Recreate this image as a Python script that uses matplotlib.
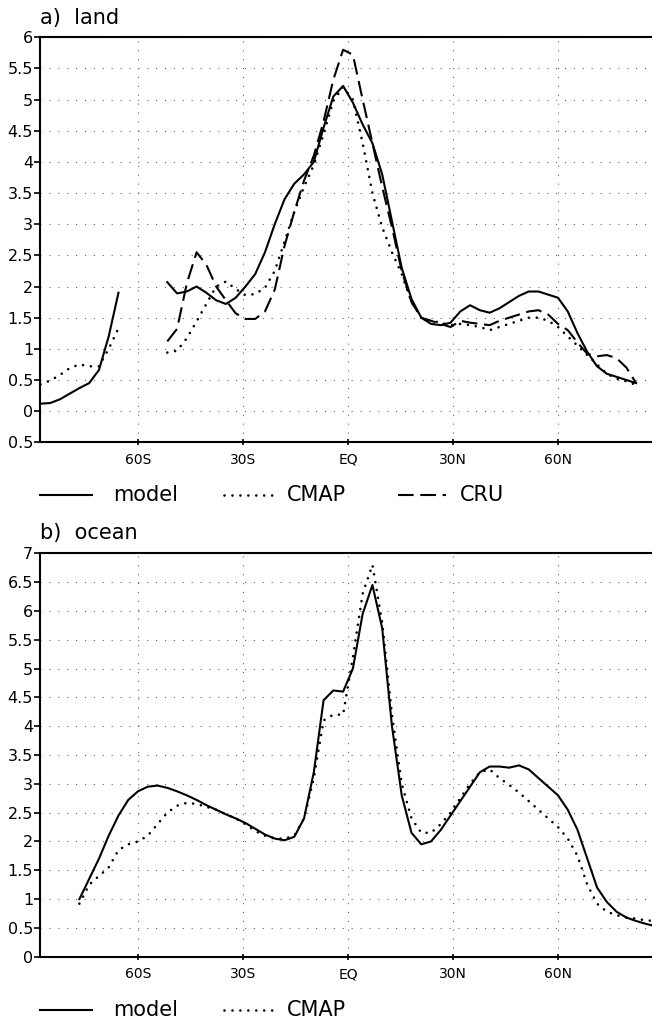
import numpy as np
import matplotlib
matplotlib.use("Agg")
import matplotlib.pyplot as plt
from matplotlib.lines import Line2D

W, H = 652, 1021

# T42 gaussian latitudes (deg)
lats = [-87.86, -85.10, -82.31, -79.53, -76.74, -73.95, -71.16, -68.37,
        -65.58, -62.79, -60.00, -57.21, -54.42, -51.63, -48.84, -46.05,
        -43.26, -40.47, -37.67, -34.88, -32.09, -29.30, -26.51, -23.72,
        -20.93, -18.14, -15.35, -12.56, -9.77, -6.98, -4.19, -1.40,
        1.40, 4.19, 6.98, 9.77, 12.56, 15.35, 18.14, 20.93,
        23.72, 26.51, 29.30, 32.09, 34.88, 37.67, 40.47, 43.26,
        46.05, 48.84, 51.63, 54.42, 57.21, 60.00, 62.79, 65.58,
        68.37, 71.16, 73.95, 76.74, 79.53, 82.31, 85.10, 87.86]

nan = np.nan

# a) land
land_model = [0.12, 0.13, 0.19, 0.28, 0.37, 0.45, 0.66, 1.20,
              1.90, nan, nan, nan, nan, 2.07, 1.89, 1.92,
              2.00, 1.90, 1.78, 1.72, 1.82, 2.00, 2.20, 2.55,
              3.00, 3.40, 3.65, 3.80, 4.00, 4.55, 5.05, 5.22,
              4.95, 4.60, 4.30, 3.80, 3.05, 2.30, 1.80, 1.50,
              1.40, 1.38, 1.42, 1.60, 1.70, 1.62, 1.58, 1.65,
              1.75, 1.85, 1.92, 1.92, 1.87, 1.82, 1.60, 1.25,
              0.95, 0.72, 0.60, 0.55, 0.50, 0.45, nan, nan]
land_cmap = [0.43, 0.49, 0.58, 0.69, 0.75, 0.72, 0.72, 1.00,
             1.33, nan, nan, nan, nan, 0.94, 0.97, 1.17,
             1.44, 1.72, 2.00, 2.08, 1.96, 1.86, 1.88, 1.98,
             2.25, 2.72, 3.20, 3.60, 3.95, 4.45, 4.98, 5.20,
             5.00, 4.30, 3.50, 2.95, 2.55, 2.20, 1.75, 1.50,
             1.45, 1.42, 1.38, 1.40, 1.38, 1.35, 1.30, 1.35,
             1.40, 1.45, 1.50, 1.50, 1.45, 1.35, 1.20, 1.05,
             0.90, 0.75, 0.60, 0.52, 0.48, 0.42, nan, nan]
land_cru = [nan, nan, nan, nan, nan, nan, nan, nan,
            nan, nan, nan, nan, nan, 1.12, 1.32, 2.05,
            2.55, 2.35, 2.00, 1.78, 1.57, 1.48, 1.48, 1.60,
            1.95, 2.65, 3.20, 3.70, 4.10, 4.65, 5.32, 5.80,
            5.72, 5.00, 4.30, 3.60, 2.95, 2.25, 1.75, 1.50,
            1.45, 1.40, 1.35, 1.45, 1.42, 1.40, 1.38, 1.45,
            1.50, 1.55, 1.60, 1.62, 1.55, 1.40, 1.30, 1.10,
            0.92, 0.88, 0.90, 0.85, 0.70, 0.45, nan, nan]

# b) ocean
ocean_model = [nan, nan, nan, nan, 1.00, 1.35, 1.70, 2.10,
               2.45, 2.72, 2.87, 2.95, 2.97, 2.93, 2.87, 2.80,
               2.72, 2.63, 2.55, 2.47, 2.40, 2.32, 2.22, 2.12,
               2.05, 2.02, 2.08, 2.40, 3.20, 4.45, 4.62, 4.60,
               5.00, 5.95, 6.45, 5.70, 4.00, 2.80, 2.15, 1.95,
               2.00, 2.20, 2.45, 2.70, 2.95, 3.20, 3.30, 3.30,
               3.28, 3.32, 3.25, 3.10, 2.95, 2.80, 2.55, 2.20,
               1.70, 1.20, 0.95, 0.78, 0.68, 0.62, 0.57, 0.53]
ocean_cmap = [nan, nan, nan, nan, 0.92, 1.25, 1.40, 1.55,
              1.85, 1.95, 2.00, 2.10, 2.30, 2.50, 2.62, 2.67,
              2.65, 2.60, 2.55, 2.47, 2.40, 2.30, 2.18, 2.10,
              2.05, 2.05, 2.10, 2.40, 3.10, 4.10, 4.20, 4.20,
              5.20, 6.30, 6.80, 5.80, 4.20, 3.00, 2.40, 2.15,
              2.15, 2.30, 2.50, 2.75, 3.00, 3.20, 3.25, 3.10,
              2.98, 2.85, 2.70, 2.55, 2.40, 2.25, 2.05, 1.75,
              1.25, 0.92, 0.78, 0.72, 0.68, 0.66, 0.63, 0.62]

xticks = [-60, -30, 0, 30, 60]
xticklabels = ["60S", "30S", "EQ", "30N", "60N"]
land_yticks = [-0.5, 0, 0.5, 1, 1.5, 2, 2.5, 3, 3.5, 4, 4.5, 5, 5.5, 6]
land_yticklabels = ["0.5", "0", "0.5", "1", "1.5", "2", "2.5", "3", "3.5",
                    "4", "4.5", "5", "5.5", "6"]
ocean_yticks = [0, 0.5, 1, 1.5, 2, 2.5, 3, 3.5, 4, 4.5, 5, 5.5, 6, 6.5, 7]
ocean_yticklabels = ["0", "0.5", "1", "1.5", "2", "2.5", "3", "3.5", "4",
                     "4.5", "5", "5.5", "6", "6.5", "7"]

STYLES = {
    "model": dict(color="black", lw=1.5, linestyle="-"),
    "CMAP": dict(color="black", lw=1.9, linestyle=(0, (0.01, 3.0)),
                 dash_capstyle="round"),
    "CRU": dict(color="black", lw=1.5, linestyle=(0, (7.5, 3.2))),
}


def fx(px):
    return px / W


def fy(py):
    return 1 - py / H


def setup_axes(ax, yticks, yticklabels, ylim):
    ax.set_xlim(-88, 88)
    ax.set_ylim(*ylim)
    ax.set_xticks(xticks)
    ax.set_xticklabels(xticklabels, fontsize=10)
    ax.set_yticks(yticks)
    ax.set_yticklabels(yticklabels, fontsize=11.5)
    ax.tick_params(axis="x", direction="inout", length=5, width=1.2, pad=5)
    ax.tick_params(axis="y", direction="out", length=4, width=1.2, pad=1)
    for s in ["left", "bottom", "top"]:
        ax.spines[s].set_linewidth(1.5)
    ax.spines["right"].set_visible(False)
    ax.grid(True, color="#666666", lw=0.8, linestyle=(0, (1, 7)))
    ax.set_axisbelow(True)


def legend_row(fig, y, entries):
    # entries: (name, line x0, line x1, text x)
    for name, x0, x1, tx in entries:
        st = STYLES[name]
        fig.add_artist(Line2D([fx(x0), fx(x1)], [fy(y), fy(y)],
                              transform=fig.transFigure, **st))
        fig.text(fx(tx), fy(y), name, fontsize=15, va="center", ha="left")


def main():
    fig = plt.figure(figsize=(W / 100, H / 100), dpi=100)

    ax1 = fig.add_axes([fx(40), fy(442.3), 616 / W, (442.3 - 37.3) / H])
    setup_axes(ax1, land_yticks, land_yticklabels, (-0.5, 6))
    ax1.plot(lats, land_model, **STYLES["model"])
    ax1.plot(lats, land_cmap, **STYLES["CMAP"])
    ax1.plot(lats, land_cru, **STYLES["CRU"])
    fig.text(fx(40), fy(18), "a)  land", fontsize=15, va="center", ha="left")
    legend_row(fig, 495, [("model", 40, 92, 113),
                          ("CMAP", 224, 272, 287),
                          ("CRU", 398, 446, 460)])

    ax2 = fig.add_axes([fx(40), fy(956.7), 616 / W, (956.7 - 553.3) / H])
    setup_axes(ax2, ocean_yticks, ocean_yticklabels, (0, 7))
    ax2.plot(lats, ocean_model, **STYLES["model"])
    ax2.plot(lats, ocean_cmap, **STYLES["CMAP"])
    fig.text(fx(40), fy(533), "b)  ocean", fontsize=15, va="center", ha="left")
    legend_row(fig, 1010, [("model", 40, 92, 113),
                           ("CMAP", 224, 272, 287)])

    fig.savefig("out.png", dpi=100)
    plt.close(fig)


if __name__ == "__main__":
    main()
